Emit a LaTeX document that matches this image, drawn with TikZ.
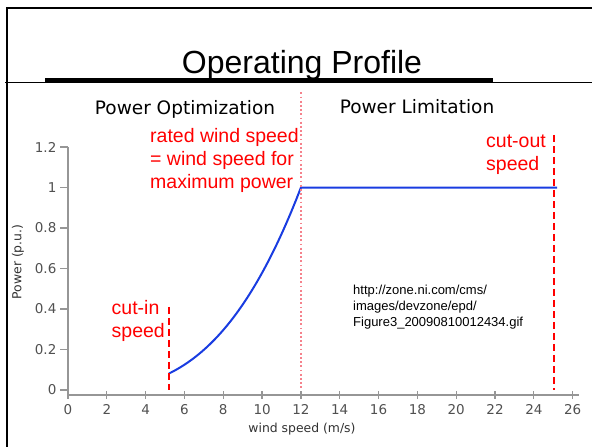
\documentclass[tikz,border=0pt]{standalone}
\usepackage{fontspec}
\setmainfont{Liberation Sans}
\newfontfamily\plotfont{DejaVu Sans}
\begin{document}
\begin{tikzpicture}[x=1pt,y=-1pt,
  frame/.style={black,line width=1.8pt},
  axisline/.style={draw={rgb,255:red,150;green,150;blue,150},line width=1.6pt},
  ticklab/.style={text={rgb,255:red,80;green,80;blue,80},font=\plotfont\fontsize{13.5}{15}\selectfont,inner sep=0pt},
  heading/.style={font=\plotfont\fontsize{18.5}{20}\selectfont,inner sep=0pt,anchor=base},
  redlab/.style={text=red,font=\fontsize{19.5}{23}\selectfont,inner sep=0pt},
  cutline/.style={red,line width=1.6pt,dash pattern=on 7pt off 4pt},
  ratedline/.style={draw={rgb,255:red,245;green,130;blue,140},line width=1.4pt,dash pattern=on 1.8pt off 2.4pt},
  curve/.style={draw={rgb,255:red,25;green,60;blue,225},line width=2pt,line join=round}]
\useasboundingbox (0,0) rectangle (592,447);
% frame
\draw[frame] (7,447) -- (7,8) -- (592,8);
\draw[black,line width=0.9pt] (5,82) -- (592,82);
\draw[black,line width=5pt] (45,80.5) -- (493,80.5);
\node (title) [anchor=base,inner sep=0pt,font=\fontsize{32}{36}\selectfont] at (302,73) {Operating Profile};
% headings
\node (popt) [heading] at (185,114) {Power Optimization};
\node (plim) [heading] at (417,113) {Power Limitation};
% plot
\begin{scope}[xshift=68pt,yshift=-390pt,x=19.41pt,y=202.5pt]
  \coordinate (ytop) at (0,1.2);
  \coordinate (orig) at (0,-0.0247);
  \coordinate (xend) at (26.35,-0.0247);
  \draw[axisline] (ytop) -- (orig) -- (xend);
  \foreach \v/\l [count=\i] in {0/0,0.2/0.2,0.4/0.4,0.6/0.6,0.8/0.8,1/1,1.2/1.2}
    \draw[axisline,line width=1.3pt] (0,\v) -- ++(-8pt,0) node (yt\i) [ticklab,anchor=east,xshift=-3pt] {\l};
  \foreach \u in {0,2,...,26}
    \draw[axisline,line width=1.3pt] (\u,-0.0247) ++(0,4pt) -- ++(0,-8pt) node (xt\u) [ticklab,anchor=north,yshift=-5pt] {\u};
  % curve
  \draw[curve] plot[domain=5.2:12,samples=60,smooth] (\x,{(\x/12)^3}) coordinate (rated) -- (25.2,1) coordinate (cutout);
  % vertical lines
  \coordinate (cinT) at (5.2,0.41);
  \coordinate (cinB) at (5.2,0.0);
  \draw[cutline] (cinT) -- (cinB);
  \coordinate (coT) at (25.05,1.26);
  \coordinate (coB) at (25.05,0.0);
  \draw[cutline] (coT) -- (coB);
  \coordinate (rT) at (12,1.47);
  \coordinate (rB) at (12,0.0);
  \draw[ratedline] (rT) -- (rB);
\end{scope}
% axis titles
\node (xlab) [inner sep=0pt,anchor=base,text={rgb,255:red,50;green,50;blue,50},font=\plotfont\fontsize{12.4}{14}\selectfont] at (302,432) {wind speed (m/s)};
\node (ylab) [inner sep=0pt,rotate=90,text={rgb,255:red,50;green,50;blue,50},font=\plotfont\fontsize{12.4}{14}\selectfont] at (18,262) {Power (p.u.)};
% red labels (base anchor = last line baseline)
\node (ratedlab) [redlab,anchor=base west,align=left] at (150,188) {rated wind speed\\= wind speed for\\maximum power};
\node (coutlab) [redlab,anchor=base west,align=left] at (486,170) {cut-out\\speed};
\node (cinlab) [redlab,anchor=base east,align=left] at (165,337) {cut-in\\speed};
% source
\node (src) [inner sep=0pt,anchor=base west,align=left,font=\fontsize{13}{16}\selectfont] at (353,326) {http://zone.ni.com/cms/\\images/devzone/epd/\\Figure3\_20090810012434.gif};
\end{tikzpicture}
\end{document}
